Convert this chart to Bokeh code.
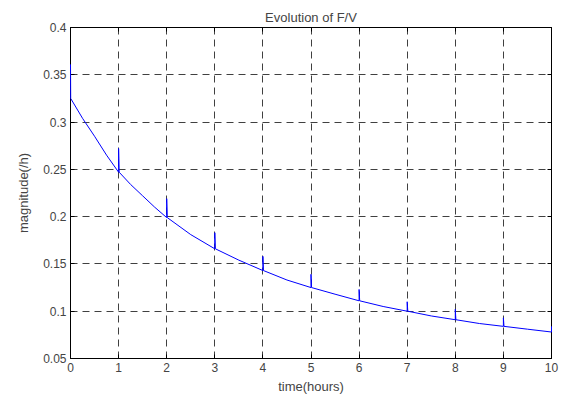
from bokeh.plotting import figure
from bokeh.models import LinearAxis, FixedTicker, Range1d
from bokeh.embed import file_html
from bokeh.resources import INLINE

# Smooth decay of F/V (finer steps where the curve bends most)
hours = [0.0, 0.25, 0.5, 0.75, 1.0, 1.25, 1.5, 1.75, 2.0, 2.5, 3.0, 3.5, 4.0, 4.5, 5.0,
         5.5, 6.0, 6.5, 7.0, 7.5, 8.0, 8.5, 9.0, 9.5, 10.0]
fv = [0.325, 0.304, 0.285, 0.265, 0.247, 0.234, 0.222, 0.210, 0.199, 0.181, 0.166, 0.154,
      0.143, 0.133, 0.125, 0.118, 0.111, 0.105, 0.100, 0.095, 0.091, 0.087, 0.084, 0.081, 0.078]

# Short upward spikes at each feeding hour
spike_hours = [0, 1, 2, 3, 4, 5, 6, 7, 8, 9, 10]
spike_peaks = [0.361, 0.272, 0.219, 0.183, 0.158, 0.139, 0.123, 0.110, 0.102, 0.093, 0.084]

x_ticks = [0, 1, 2, 3, 4, 5, 6, 7, 8, 9, 10]
y_ticks = [0.05, 0.1, 0.15, 0.2, 0.25, 0.3, 0.35, 0.4]

# Assemble the trace: at each spike hour jump to the peak, then back to the curve
xs, ys = [], []
for h, v in zip(hours, fv):
    if h in spike_hours:
        pk = spike_peaks[spike_hours.index(h)]
        if h == hours[0]:
            xs += [h, h + 0.004]
            ys += [pk, v]
        elif h == hours[-1]:
            xs += [h, h]
            ys += [v, pk]
        else:
            xs += [h, h, h + 0.012]
            ys += [v, pk, v]
    else:
        xs.append(h)
        ys.append(v)

FONT = "Liberation Sans"

p = figure(width=567, height=396, output_backend="svg", toolbar_location=None,
           x_range=Range1d(0, 10), y_range=Range1d(0.05, 0.4),
           min_border_left=70, min_border_right=16, min_border_top=27, min_border_bottom=37,
           title="Evolution of F/V")
p.title.align = "center"
p.title.text_font = FONT
p.title.text_font_size = "13px"
p.title.text_font_style = "normal"
p.title.offset = 0
p.title.standoff = 6

p.background_fill_color = "white"
p.border_fill_color = "white"
p.outline_line_color = "black"
p.outline_line_width = 1

# Draw the trace above the axes so the spikes on the box edges stay visible
p.line(xs, ys, line_color="#0000ff", line_width=1.0, level="overlay")

for ax in (p.xaxis[0], p.yaxis[0]):
    ax.major_tick_in = 4
    ax.major_tick_out = 0
    ax.minor_tick_in = 0
    ax.minor_tick_out = 0
    ax.axis_line_color = "black"
    ax.major_label_text_font = FONT
    ax.major_label_text_font_size = "12px"
    ax.axis_label_text_font = FONT
    ax.axis_label_text_font_size = "13px"
    ax.axis_label_text_font_style = "normal"

p.xaxis[0].ticker = FixedTicker(ticks=x_ticks)
p.yaxis[0].ticker = FixedTicker(ticks=y_ticks)
p.xaxis[0].major_label_overrides = {t: str(t) for t in x_ticks}
p.yaxis[0].major_label_overrides = {t: ("%g" % t) for t in y_ticks}
p.xaxis[0].axis_label = "time(hours)"
p.yaxis[0].axis_label = "magnitude(/h)"
p.xaxis[0].major_label_standoff = 4
p.yaxis[0].major_label_standoff = 4
p.xaxis[0].axis_label_standoff = 4
p.yaxis[0].axis_label_standoff = 9

# Tick marks on the top and right edges of the box
top = LinearAxis(ticker=FixedTicker(ticks=x_ticks), major_tick_in=4, major_tick_out=0,
                 minor_tick_in=0, minor_tick_out=0, axis_line_color="black",
                 major_label_overrides={t: "" for t in x_ticks}, major_label_standoff=0)
right = LinearAxis(ticker=FixedTicker(ticks=y_ticks), major_tick_in=4, major_tick_out=0,
                   minor_tick_in=0, minor_tick_out=0, axis_line_color="black",
                   major_label_overrides={t: "" for t in y_ticks}, major_label_standoff=0)
p.add_layout(top, "above")
p.add_layout(right, "right")

p.xgrid.ticker = FixedTicker(ticks=x_ticks)
p.ygrid.ticker = FixedTicker(ticks=y_ticks)
p.grid.grid_line_color = "#404040"
p.grid.grid_line_dash = "7 5"
p.grid.grid_line_width = 1

open("out.html", "w").write(file_html(p, INLINE))
